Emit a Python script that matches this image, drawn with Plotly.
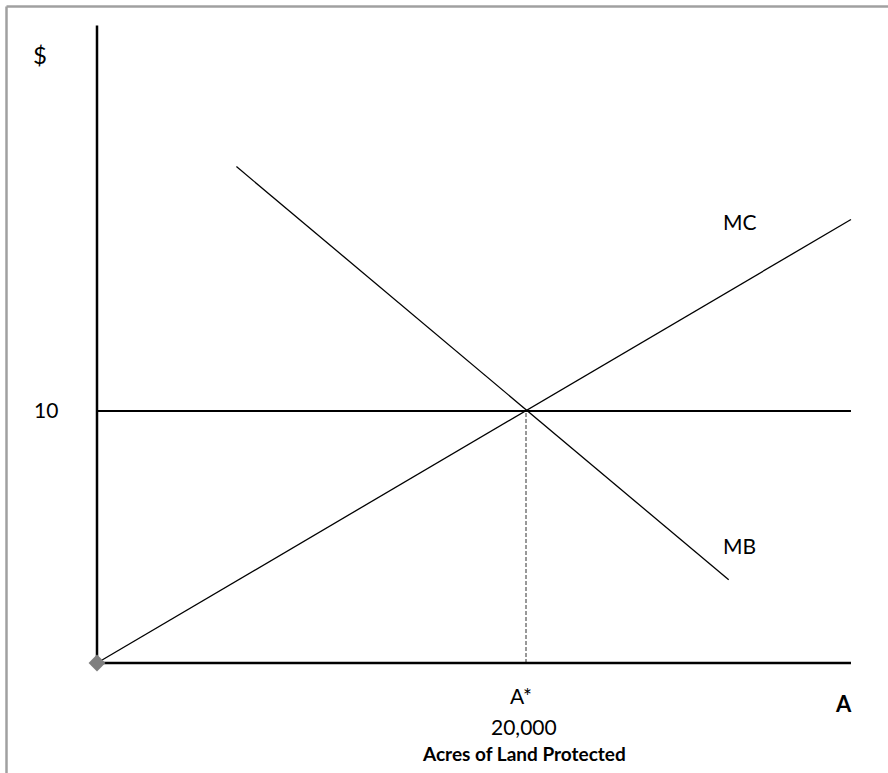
import plotly.graph_objects as go

# ---- data (acres, $) ----
mc_x = [0, 35150]
mc_y = [0, 17.6]
mb_x = [6500, 29450]
mb_y = [19.7, 3.3]
price_level = 10
a_star = 20000
x_axis_end = 35150
y_axis_end = 25.3
labels = {"y": "$", "x": "A", "tick_y": "10", "astar": "A*", "astar_val": "20,000",
          "xtitle": "Acres of Land Protected", "mc": "MC", "mb": "MB"}

OFF = 0  # body margin removed via post_script
W, H = 888 - OFF, 773 - OFF
FONT = "Lato"

fig = go.Figure()
fig.add_trace(go.Scatter(x=[0, x_axis_end], y=[price_level, price_level], mode="lines",
                         line=dict(color="black", width=2), hoverinfo="skip"))
fig.add_trace(go.Scatter(x=[a_star, a_star], y=[0, price_level], mode="lines",
                         line=dict(color="#333333", width=1, dash="4px,2px"), hoverinfo="skip"))
fig.add_trace(go.Scatter(x=mc_x, y=mc_y, mode="lines", line=dict(color="black", width=1.3), hoverinfo="skip"))
fig.add_trace(go.Scatter(x=mb_x, y=mb_y, mode="lines", line=dict(color="black", width=1.3), hoverinfo="skip"))
fig.add_trace(go.Scatter(x=[0, 0], y=[0, y_axis_end], mode="lines",
                         line=dict(color="black", width=2.5), hoverinfo="skip"))
fig.add_trace(go.Scatter(x=[0, x_axis_end], y=[0, 0], mode="lines",
                         line=dict(color="black", width=2.5), hoverinfo="skip"))
fig.add_trace(go.Scatter(x=[0], y=[0], mode="markers",
                         marker=dict(symbol="diamond", size=13, color="#7f7f7f"), hoverinfo="skip"))


def ann(text, px, py, size=21, bold=False):
    fig.add_annotation(x=(px - OFF) / W, y=1 - (py - OFF) / H, xref="paper", yref="paper",
                       text=("<b>%s</b>" % text) if bold else text,
                       showarrow=False, xanchor="center", yanchor="middle",
                       font=dict(family=FONT, size=size, color="black"))


ann(labels["y"], 40, 54, size=24)
ann(labels["tick_y"], 45.5, 409.5)
ann(labels["mc"], 740, 221.5)
ann(labels["mb"], 739, 545)
ann(labels["astar"], 521, 695)
ann(labels["astar_val"], 523.5, 726)
ann(labels["xtitle"], 523.5, 753, size=19, bold=True)
ann(labels["x"], 843, 703, size=22, bold=True)

fx = (6.5 - OFF) / W
fy = 1 - (6.5 - OFF) / H
fig.add_shape(type="line", xref="paper", yref="paper", x0=fx, x1=1.01, y0=fy, y1=fy,
              line=dict(color="#a0a0a0", width=2.5))
fig.add_shape(type="line", xref="paper", yref="paper", x0=fx, x1=fx, y0=fy, y1=-0.01,
              line=dict(color="#a0a0a0", width=2.5))

px_per_k = (526 - 97) / 20.0
px_per_d = (663 - 411) / 10.0
ox, oy = 97 - OFF, 663 - OFF
fig.update_layout(
    width=W, height=H, margin=dict(l=0, r=0, t=0, b=0),
    paper_bgcolor="white", plot_bgcolor="white", showlegend=False,
    xaxis=dict(range=[-ox / px_per_k * 1000, (W - ox) / px_per_k * 1000], visible=False, fixedrange=True),
    yaxis=dict(range=[-(H - oy) / px_per_d, oy / px_per_d], visible=False, fixedrange=True),
)
fig.write_html("out.html", config={"displayModeBar": False},
               post_script="document.body.style.margin='0';document.body.style.overflow='hidden';")
